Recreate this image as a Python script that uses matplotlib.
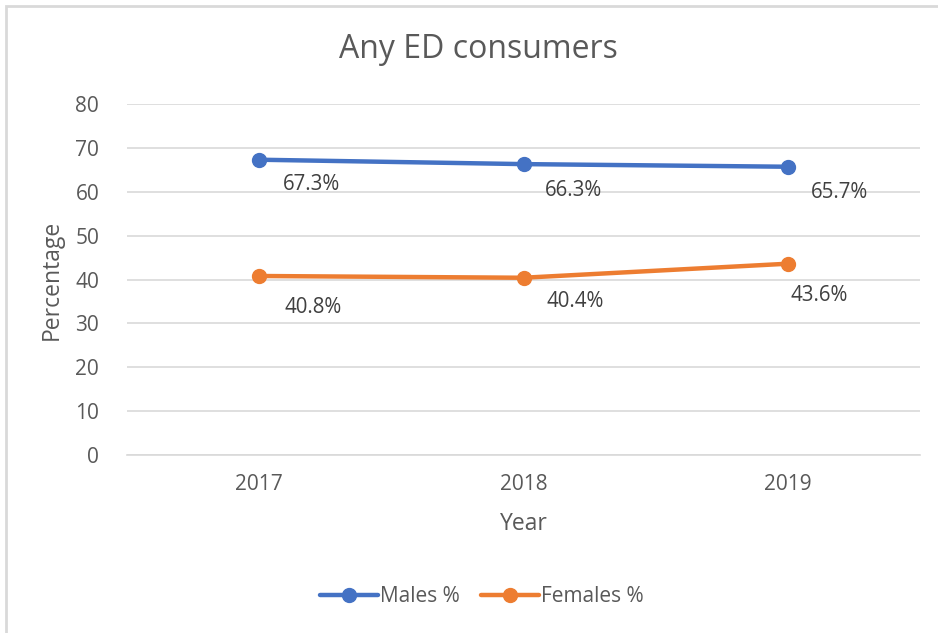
import matplotlib.pyplot as plt
from matplotlib.patches import Rectangle

years = ["2017", "2018", "2019"]
males = [67.3, 66.3, 65.7]
females = [40.8, 40.4, 43.6]

# label offsets in pixels (dx, dy) from each point
male_off = [(52, -25), (50, -26), (52, -26)]
female_off = [(54, -32), (52, -24), (31, -32)]

plt.rcParams['font.family'] = ['Open Sans', 'DejaVu Sans']
txt = '#595959'
grid = '#d9d9d9'

fig = plt.figure(figsize=(9.38, 6.33), dpi=100)
ax = fig.add_axes([127/938, 1-455/633, (920-127)/938, (455-104)/633])

# outer chart border (cropped on right/bottom)
fig.patches.append(Rectangle((6/938, -0.1), 1.2, 1 - 6/633 + 0.1, transform=fig.transFigure,
                             fill=False, edgecolor='#d9d9d9', linewidth=2))

x = range(len(years))
ax.plot(x, males, color='#4472C4', lw=3.2, marker='o', ms=10, label='Males %', solid_capstyle='round')
ax.plot(x, females, color='#ED7D31', lw=3.2, marker='o', ms=10, label='Females %', solid_capstyle='round')

for i, v in enumerate(males):
    ax.annotate(f"{v}%", (i, v), xytext=male_off[i], textcoords='offset pixels',
                ha='center', va='center', fontsize=14.8, color='#404040')
for i, v in enumerate(females):
    ax.annotate(f"{v}%", (i, v), xytext=female_off[i], textcoords='offset pixels',
                ha='center', va='center', fontsize=14.8, color='#404040')

ax.set_xlim(-0.5, 2.5)
ax.set_ylim(0, 80)
ax.set_yticks(range(0, 81, 10))
ax.set_xticks(list(x))
ax.set_xticklabels(years)
ax.grid(axis='y', color=grid, lw=1.2)
ax.set_axisbelow(True)
for s in ['top', 'right', 'left']:
    ax.spines[s].set_visible(False)
ax.spines['bottom'].set_color(grid)
ax.spines['bottom'].set_linewidth(1.2)
ax.tick_params(length=0, colors=txt, labelsize=15, pad=14)
ax.tick_params(axis='y', pad=20)

ax.set_xlabel('Year', fontsize=16.5, color=txt, labelpad=12)
ax.set_ylabel('Percentage', fontsize=16.5, color=txt, labelpad=8)
fig.text(478/938, 1-50/633, 'Any ED consumers', ha='center', va='center', fontsize=23, color=txt)

fig.legend(loc='center', bbox_to_anchor=(482/938, 1-597/633), ncol=2, frameon=False,
           fontsize=15, labelcolor=txt, handlelength=2.8, handletextpad=0.1, columnspacing=1.0)

fig.savefig('out.png', dpi=100)
